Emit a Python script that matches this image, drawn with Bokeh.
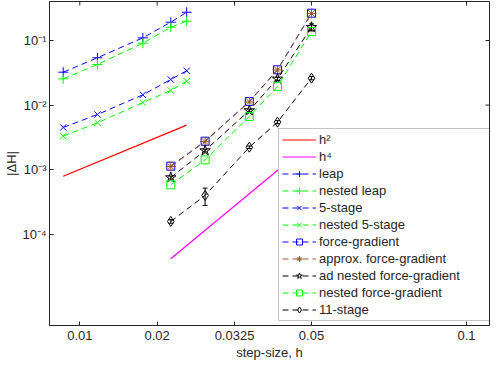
import math
from bokeh.plotting import figure
from bokeh.models import (FixedTicker, Legend, LegendItem, Whisker,
                          ColumnDataSource, TeeHead, Range1d)
from bokeh.embed import file_html
from bokeh.resources import INLINE

# ---------------- data ----------------
h_coarse = [0.008, 0.0103, 0.0144, 0.0177, 0.0199]
h_fine = [0.0177, 0.0228, 0.0316, 0.0389, 0.05]

leap = [0.0323, 0.054, 0.110, 0.192, 0.274]
nested_leap = [0.0255, 0.0425, 0.0908, 0.1606, 0.199]
five_stage = [0.0045, 0.00715, 0.01443, 0.0249, 0.034]
nested_five_stage = [0.0033, 0.00532, 0.01097, 0.01683, 0.02344]

force_gradient = [0.001133, 0.00276, 0.01137, 0.0352, 0.2646]
approx_force_gradient = [0.00112, 0.00272, 0.0112, 0.0350, 0.262]
ad_nested_fg = [0.000757, 0.00198, 0.00825, 0.0255, 0.1606]
ad_nested_fg_err = [0.00004, 0.0001, 0.0004, 0.0015, 0.02]
nested_fg = [0.000584, 0.00142, 0.00666, 0.0194, 0.1378]
eleven_stage = [0.000158, 0.000399, 0.00223, 0.00544, 0.0261]
eleven_stage_err = [0.00001, 0.00012, 0.0001, 0.0003, 0.0015]

h2_x = [0.008, 0.0199]
h2_y = [0.000793, 0.00489]
h4_x = [0.0177, 0.05]
h4_y = [4.18e-5, 2.66e-3]

x_tick_pos = [0.009044, 0.01601, 0.02833, 0.05, 0.157]
x_tick_labels = ["0.01", "0.02", "0.0325", "0.05", "0.1"]
y_tick_pos = [1e-4, 1e-3, 1e-2, 1e-1]
y_tick_labels = ["10\u207b\u2074", "10\u207b\u00b3", "10\u207b\u00b2", "10\u207b\u00b9"]

X_LIM = (0.007231, 0.186)
Y_LIM = (3.87e-6, 0.4016)

FONT = "Liberation Sans"
AX = "#262626"

p = figure(width=490, height=363, x_axis_type="log", y_axis_type="log",
           x_range=Range1d(*X_LIM), y_range=Range1d(*Y_LIM),
           output_backend="svg", toolbar_location=None,
           min_border_left=49, min_border_right=1, min_border_top=1,
           min_border_bottom=38)
p.grid.visible = False
p.outline_line_color = AX
p.outline_line_width = 1
p.background_fill_color = "white"
p.border_fill_color = "white"

for ax in (p.xaxis[0], p.yaxis[0]):
    ax.major_tick_in = 4
    ax.major_tick_out = 0
    ax.minor_tick_line_color = None
    ax.axis_line_color = AX
    ax.major_tick_line_color = AX
    ax.major_label_text_font = FONT
    ax.major_label_text_font_size = "13px"
    ax.major_label_text_color = AX
    ax.axis_label_text_font = FONT
    ax.axis_label_text_font_size = "13px"
    ax.axis_label_text_font_style = "normal"
    ax.axis_label_text_color = AX

p.xaxis.ticker = FixedTicker(ticks=x_tick_pos)
p.xaxis.major_label_overrides = dict(zip(x_tick_pos, x_tick_labels))
p.xaxis.axis_label = "step-size, h"
p.xaxis.major_label_standoff = 5
p.xaxis.axis_label_standoff = 2

p.yaxis.ticker = FixedTicker(ticks=y_tick_pos)
p.yaxis.major_label_overrides = dict(zip(y_tick_pos, y_tick_labels))
p.yaxis.axis_label = "|\u0394H|"
p.yaxis.major_label_standoff = 3
p.yaxis.axis_label_standoff = 0

# mirrored inward ticks on top and right edges of the box
p.ray(x=x_tick_pos, y=[Y_LIM[1]] * len(x_tick_pos), length=4, length_units="screen",
      angle=-math.pi / 2, line_color=AX, line_width=1)
p.ray(x=[X_LIM[1]] * len(y_tick_pos), y=y_tick_pos, length=4, length_units="screen",
      angle=math.pi, line_color=AX, line_width=1)

DASH = "6 4"
BLUE, GREEN, RED, MAG, BROWN, BLACK = "#0000ff", "#00ff00", "#ff0000", "#ff00ff", "#a0522d", "#000000"

items = []
r = p.line(h2_x, h2_y, color=RED, line_width=1.2)
items.append(LegendItem(label="h\u00b2", renderers=[r]))
r = p.line(h4_x, h4_y, color=MAG, line_width=1.2)
items.append(LegendItem(label="h\u2074", renderers=[r]))

# error bars
src_ad = ColumnDataSource(dict(x=h_fine,
                               u=[a + e for a, e in zip(ad_nested_fg, ad_nested_fg_err)],
                               l=[a - e for a, e in zip(ad_nested_fg, ad_nested_fg_err)]))
src_11 = ColumnDataSource(dict(x=h_fine,
                               u=[a + e for a, e in zip(eleven_stage, eleven_stage_err)],
                               l=[a - e for a, e in zip(eleven_stage, eleven_stage_err)]))
for s in (src_ad, src_11):
    p.add_layout(Whisker(source=s, base="x", upper="u", lower="l", line_color=BLACK,
                         line_width=1,
                         upper_head=TeeHead(size=5, line_color=BLACK),
                         lower_head=TeeHead(size=5, line_color=BLACK)))

series = [
    ("leap", h_coarse, leap, BLUE, "cross", 10),
    ("nested leap", h_coarse, nested_leap, GREEN, "cross", 10),
    ("5-stage", h_coarse, five_stage, BLUE, "x", 9),
    ("nested 5-stage", h_coarse, nested_five_stage, GREEN, "x", 9),
    ("force-gradient", h_fine, force_gradient, BLUE, "square", 8),
    ("approx. force-gradient", h_fine, approx_force_gradient, BROWN, "asterisk", 10),
    ("ad nested force-gradient", h_fine, ad_nested_fg, BLACK, "star", 11),
    ("nested force-gradient", h_fine, nested_fg, GREEN, "square", 8),
    ("11-stage", h_fine, eleven_stage, BLACK, "diamond", 10),
]
for label, xs, ys, col, mk, sz in series:
    l = p.line(xs, ys, color=col, line_width=1, line_dash=DASH)
    s = p.scatter(xs, ys, marker=mk, size=sz, line_color=col, fill_color=None, line_width=1)
    items.append(LegendItem(label=label, renderers=[l, s]))

legend = Legend(items=items, location=(229, 4), label_text_font=FONT,
                label_text_font_size="13px", label_text_color=AX,
                glyph_width=34, glyph_height=15, label_height=15, label_width=167,
                spacing=2, padding=3, label_standoff=3, border_line_color="#888888",
                border_line_width=1, background_fill_color="white",
                background_fill_alpha=1.0)
p.add_layout(legend, "center")

open("out.html", "w").write(file_html(p, INLINE))
